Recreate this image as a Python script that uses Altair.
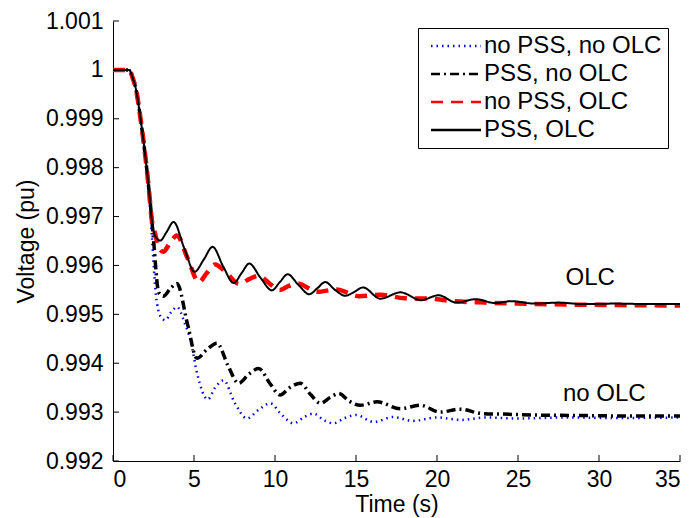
import altair as alt
import pandas as pd

# ---- data ----
series_names = ["no PSS, no OLC", "PSS, no OLC", "no PSS, OLC", "PSS, OLC"]

t_nn = [0, 1.0, 1.2, 1.45, 1.7, 2.0, 2.2, 2.4, 2.65, 2.95, 3.23, 3.6, 3.95, 4.45, 4.8, 5.2,
        5.85, 6.3, 6.83, 7.5, 8.27, 9.0, 9.71, 10.4, 11.15, 11.8, 12.38, 13.0, 13.6, 14.3,
        15.0, 16.1, 17.3, 18.5, 20, 21.5, 23, 25, 28, 31, 35]
v_nn = [1.0, 1.0, 0.99985, 0.99955, 0.99900, 0.99822, 0.99761, 0.99660, 0.99540, 0.99495,
        0.99488, 0.99505, 0.99515, 0.99480, 0.99445, 0.99378, 0.99326, 0.99350, 0.99365,
        0.99320, 0.99287, 0.99305, 0.99318, 0.99295, 0.99277, 0.99290, 0.99297, 0.99284,
        0.99277, 0.99288, 0.99294, 0.99280, 0.99290, 0.99282, 0.99289, 0.99284, 0.99289,
        0.99287, 0.99289, 0.99288, 0.99289]

t_pn = [0, 1.0, 1.2, 1.45, 1.7, 2.0, 2.2, 2.4, 2.5, 2.82, 3.1, 3.55, 3.95, 4.6, 5.18, 5.8,
        6.42, 7.1, 7.75, 8.4, 8.99, 9.7, 10.32, 10.9, 11.56, 12.2, 12.8, 13.4, 13.93, 14.6,
        15.27, 16.3, 17.73, 18.97, 20.2, 21.4, 22.8, 24, 26, 29, 32, 35]
v_pn = [1.0, 1.0, 0.99985, 0.99955, 0.99900, 0.99822, 0.99761, 0.99692, 0.99653, 0.99545,
        0.99537, 0.99553, 0.99563, 0.99480, 0.99410, 0.99428, 0.99441, 0.99395, 0.99359,
        0.99378, 0.99389, 0.99358, 0.99335, 0.99350, 0.99359, 0.99336, 0.99318, 0.99330,
        0.99338, 0.99322, 0.99314, 0.99321, 0.99307, 0.99314, 0.99300, 0.99306, 0.99297,
        0.99296, 0.99294, 0.99293, 0.99292, 0.99292]

t_no = [0, 1.0, 1.2, 1.45, 1.7, 2.0, 2.2, 2.4, 2.6, 2.85, 3.1, 3.5, 3.95, 4.6, 5.3, 5.8,
        6.3, 7.0, 7.8, 8.4, 9.0, 9.7, 10.3, 10.85, 11.4, 12.6, 13.8, 15.2, 16.5, 18, 19.5,
        21, 23, 25, 28, 31, 35]
v_no = [1.0, 1.0, 0.99985, 0.99955, 0.99900, 0.99822, 0.99761, 0.99692, 0.99665, 0.99635,
        0.99628, 0.99645, 0.99661, 0.99615, 0.99566, 0.99585, 0.99602, 0.99585, 0.99562,
        0.99572, 0.99579, 0.99562, 0.99550, 0.99558, 0.99563, 0.99546, 0.99551, 0.99537,
        0.99540, 0.99533, 0.99532, 0.99527, 0.99524, 0.99522, 0.99520, 0.99519, 0.99518]

t_po = [0, 1.0, 1.2, 1.45, 1.7, 2.0, 2.2, 2.4, 2.6, 2.92, 3.3, 3.74, 4.4, 5.04, 5.6, 6.15,
        6.8, 7.45, 7.95, 8.41, 9.1, 9.81, 10.3, 10.78, 11.45, 12.12, 12.6, 13.1, 13.7, 14.34,
        14.9, 15.43, 16.5, 17.75, 19.0, 20.1, 21.2, 22.4, 23.6, 24.6, 26, 27.5, 29, 31, 33, 35]
v_po = [1.0, 1.0, 0.99985, 0.99955, 0.99900, 0.99822, 0.99761, 0.99692, 0.99660, 0.99651,
        0.99668, 0.99689, 0.99635, 0.99587, 0.99612, 0.99638, 0.99598, 0.99564, 0.99585,
        0.99604, 0.99575, 0.99549, 0.99566, 0.99582, 0.99560, 0.99541, 0.99553, 0.99566,
        0.99550, 0.99538, 0.99546, 0.99555, 0.99532, 0.99545, 0.99529, 0.99539, 0.99524,
        0.99531, 0.99523, 0.99527, 0.99522, 0.99524, 0.99521, 0.99522, 0.99521, 0.99521]

x_ticks = [0, 5, 10, 15, 20, 25, 30, 35]
y_ticks = [0.992, 0.993, 0.994, 0.995, 0.996, 0.997, 0.998, 0.999, 1.000, 1.001]

ann_text = ["OLC", "no OLC"]
ann_t = [29.46, 30.33]
ann_v = [0.99575, 0.99337]

# ---- styles ----
colors = ["#0000ff", "#000000", "#ff0000", "#000000"]
dashes = [[1.5, 4], [9, 4, 2, 4], [12, 8], [1, 0]]
widths = [2.5, 3.5, 4.5, 2]
FONT = "Liberation Sans"

rows = []
for name, ts, vs in zip(series_names, [t_nn, t_pn, t_no, t_po], [v_nn, v_pn, v_no, v_po]):
    for t, v in zip(ts, vs):
        rows.append({"series": name, "t": t, "v": v})
df = pd.DataFrame(rows)

legend = alt.Legend(
    title=None, orient="none", legendX=305, legendY=7,
    symbolType="M-1,0H9", symbolSize=100, symbolStrokeWidth=2.5,
    labelFont=FONT, labelFontSize=24, labelColor="black", labelLimit=400,
    labelOffset=36, rowPadding=4, padding=6,
    strokeColor="black", fillColor="white",
)

x_enc = alt.X("t:Q", scale=alt.Scale(domain=[0, 35], nice=False, zero=False),
              axis=alt.Axis(values=x_ticks, title="Time (s)", format="d",
                            labelPadding=7, titlePadding=2))
y_enc = alt.Y("v:Q", scale=alt.Scale(domain=[0.992, 1.001], nice=False, zero=False),
              axis=alt.Axis(values=y_ticks, title="Voltage (pu)", format=".4~r",
                            labelPadding=10, titlePadding=7))
color_enc = alt.Color("series:N", scale=alt.Scale(domain=series_names, range=colors), legend=legend)
dash_enc = alt.StrokeDash("series:N", scale=alt.Scale(domain=series_names, range=dashes), legend=legend)

layers = []
for name, w in zip(series_names, widths):
    layers.append(
        alt.Chart(df).transform_filter(alt.datum.series == name)
        .mark_line(interpolate="monotone", strokeWidth=w)
        .encode(x=x_enc, y=y_enc, color=color_enc, strokeDash=dash_enc)
    )

xt = alt.Chart(pd.DataFrame({"t": x_ticks})).mark_rule(color="black", strokeWidth=1).encode(
    x="t:Q", y=alt.value(440), y2=alt.value(434))
yt = alt.Chart(pd.DataFrame({"v": y_ticks})).mark_rule(color="black", strokeWidth=1).encode(
    y="v:Q", x=alt.value(0), x2=alt.value(6))

ann = alt.Chart(pd.DataFrame({"t": ann_t, "v": ann_v, "label": ann_text})).mark_text(
    font=FONT, fontSize=24, color="black", align="center", baseline="middle").encode(
    x="t:Q", y="v:Q", text="label:N")

chart = alt.layer(*layers, xt, yt, ann).properties(
    width=567, height=440,
    autosize=alt.AutoSizeParams(type="none"),
    padding={"left": 113, "top": 21, "right": 14, "bottom": 57},
    background="white",
).configure_view(stroke=None).configure_axis(
    grid=False, ticks=False, tickSize=0, domainColor="black", domainWidth=1,
    labelFont=FONT, labelFontSize=23, labelColor="black",
    titleFont=FONT, titleFontSize=23, titleFontWeight="normal", titleColor="black",
)

chart.save("out.html", embed_options={"renderer": "svg", "actions": False})
